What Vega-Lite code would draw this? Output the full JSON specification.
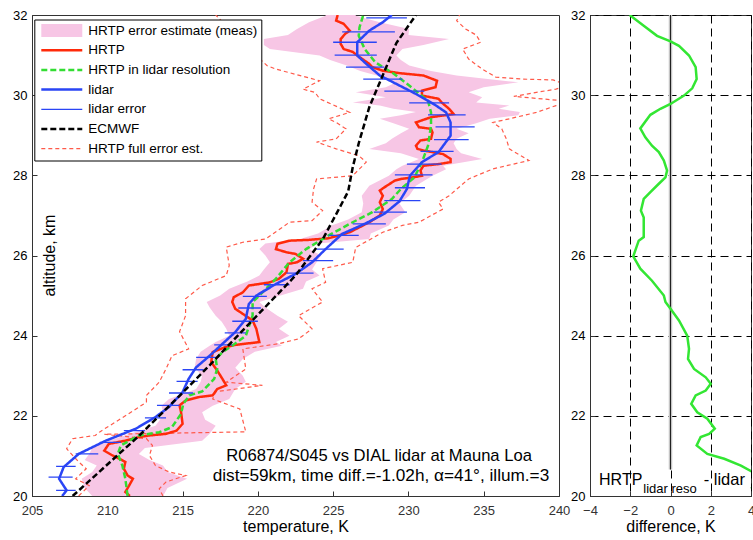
{
  "$schema": "https://vega.github.io/schema/vega-lite/v6.json",
  "background": "white",
  "padding": {"left": 12, "top": 8, "right": 0, "bottom": 0},
  "bounds": "flush",
  "spacing": 31,
  "config": {
    "font": "Liberation Sans",
    "view": {"stroke": "#333", "strokeWidth": 1},
    "axis": {"labelColor": "#111", "labelFontSize": 13, "titleFontSize": 16, "titleFontWeight": "normal", "titleColor": "#000", "domainColor": "#333", "tickColor": "#333", "grid": false, "labelFlush": false, "labelOverlap": false}
  },
  "datasets": {
    "band": [
      {"alt": 20.0, "lo": 209.0, "hi": 213.7}, {"alt": 20.2, "lo": 208.5, "hi": 214.0}, {"alt": 20.43, "lo": 208.3, "hi": 215.3},
      {"alt": 20.6, "lo": 209.0, "hi": 214.0}, {"alt": 20.76, "lo": 209.3, "hi": 213.7}, {"alt": 20.9, "lo": 208.5, "hi": 212.8},
      {"alt": 21.05, "lo": 208.8, "hi": 212.1}, {"alt": 21.2, "lo": 209.0, "hi": 212.5}, {"alt": 21.38, "lo": 210.1, "hi": 216.3},
      {"alt": 21.55, "lo": 211.5, "hi": 216.8}, {"alt": 21.75, "lo": 213.2, "hi": 217.2}, {"alt": 21.9, "lo": 213.5, "hi": 216.5},
      {"alt": 22.09, "lo": 213.7, "hi": 216.3}, {"alt": 22.25, "lo": 213.6, "hi": 217.0}, {"alt": 22.42, "lo": 214.1, "hi": 218.1},
      {"alt": 22.67, "lo": 215.9, "hi": 218.5}, {"alt": 22.85, "lo": 216.2, "hi": 219.2}, {"alt": 23.0, "lo": 216.3, "hi": 219.0},
      {"alt": 23.2, "lo": 215.8, "hi": 218.5}, {"alt": 23.42, "lo": 215.9, "hi": 219.0}, {"alt": 23.6, "lo": 216.2, "hi": 219.8},
      {"alt": 23.75, "lo": 216.8, "hi": 221.6}, {"alt": 23.84, "lo": 217.2, "hi": 221.2}, {"alt": 24.0, "lo": 218.1, "hi": 222.1},
      {"alt": 24.17, "lo": 217.9, "hi": 221.4}, {"alt": 24.35, "lo": 217.6, "hi": 222.0}, {"alt": 24.5, "lo": 217.2, "hi": 221.3},
      {"alt": 24.7, "lo": 216.8, "hi": 220.5}, {"alt": 24.84, "lo": 216.6, "hi": 220.1}, {"alt": 25.0, "lo": 217.5, "hi": 221.5},
      {"alt": 25.17, "lo": 218.1, "hi": 223.0}, {"alt": 25.35, "lo": 219.3, "hi": 223.2}, {"alt": 25.5, "lo": 220.1, "hi": 224.1},
      {"alt": 25.65, "lo": 220.4, "hi": 223.6}, {"alt": 25.83, "lo": 220.8, "hi": 223.9}, {"alt": 26.0, "lo": 220.5, "hi": 224.2},
      {"alt": 26.16, "lo": 220.1, "hi": 223.4}, {"alt": 26.3, "lo": 220.5, "hi": 224.0}, {"alt": 26.41, "lo": 222.8, "hi": 227.4},
      {"alt": 26.55, "lo": 224.0, "hi": 227.5}, {"alt": 26.75, "lo": 224.9, "hi": 228.7}, {"alt": 26.9, "lo": 226.0, "hi": 229.0},
      {"alt": 27.08, "lo": 226.9, "hi": 229.8}, {"alt": 27.3, "lo": 227.0, "hi": 229.4}, {"alt": 27.49, "lo": 226.9, "hi": 230.05},
      {"alt": 27.74, "lo": 227.4, "hi": 230.5}, {"alt": 27.99, "lo": 228.7, "hi": 231.6}, {"alt": 28.15, "lo": 229.2, "hi": 232.5},
      {"alt": 28.24, "lo": 229.6, "hi": 232.3}, {"alt": 28.41, "lo": 230.7, "hi": 234.9}, {"alt": 28.55, "lo": 229.5, "hi": 233.5},
      {"alt": 28.66, "lo": 227.4, "hi": 233.2}, {"alt": 28.8, "lo": 228.5, "hi": 233.0}, {"alt": 28.91, "lo": 228.9, "hi": 233.2},
      {"alt": 29.05, "lo": 229.5, "hi": 234.0}, {"alt": 29.16, "lo": 230.05, "hi": 233.2}, {"alt": 29.3, "lo": 229.0, "hi": 234.5},
      {"alt": 29.41, "lo": 228.1, "hi": 235.4}, {"alt": 29.5, "lo": 229.5, "hi": 237.3}, {"alt": 29.58, "lo": 230.5, "hi": 237.4},
      {"alt": 29.66, "lo": 229.0, "hi": 236.0}, {"alt": 29.74, "lo": 228.1, "hi": 236.7}, {"alt": 29.82, "lo": 226.3, "hi": 234.5},
      {"alt": 29.95, "lo": 228.5, "hi": 234.9}, {"alt": 30.07, "lo": 226.5, "hi": 234.0}, {"alt": 30.2, "lo": 228.5, "hi": 235.0},
      {"alt": 30.32, "lo": 229.2, "hi": 237.3}, {"alt": 30.49, "lo": 227.9, "hi": 233.2}, {"alt": 30.6, "lo": 226.8, "hi": 231.5},
      {"alt": 30.74, "lo": 225.9, "hi": 230.05}, {"alt": 30.88, "lo": 224.8, "hi": 229.5}, {"alt": 30.99, "lo": 224.1, "hi": 229.2},
      {"alt": 31.15, "lo": 220.8, "hi": 229.6}, {"alt": 31.25, "lo": 220.4, "hi": 231.0}, {"alt": 31.4, "lo": 220.4, "hi": 232.7},
      {"alt": 31.5, "lo": 222.0, "hi": 230.0}, {"alt": 31.65, "lo": 222.6, "hi": 230.05}, {"alt": 31.82, "lo": 223.4, "hi": 228.1},
      {"alt": 31.98, "lo": 224.5, "hi": 226.5}, {"alt": 32.0, "lo": 224.5, "hi": 226.5}
    ],
    "fullerr": [
      {"side": "L", "alt": 20.0, "T": 208.1}, {"side": "L", "alt": 20.26, "T": 208.8}, {"side": "L", "alt": 20.43, "T": 207.9},
      {"side": "L", "alt": 20.68, "T": 208.6}, {"side": "L", "alt": 20.85, "T": 208.1}, {"side": "L", "alt": 21.18, "T": 207.3},
      {"side": "L", "alt": 21.43, "T": 207.7}, {"side": "L", "alt": 21.51, "T": 209.2}, {"side": "L", "alt": 21.6, "T": 209.5},
      {"side": "L", "alt": 22.0, "T": 211.2}, {"side": "L", "alt": 22.34, "T": 212.6}, {"side": "L", "alt": 22.51, "T": 212.6},
      {"side": "L", "alt": 22.84, "T": 213.45}, {"side": "L", "alt": 23.17, "T": 213.9}, {"side": "L", "alt": 23.5, "T": 214.3},
      {"side": "L", "alt": 23.67, "T": 215.4}, {"side": "L", "alt": 24.1, "T": 214.8}, {"side": "L", "alt": 24.5, "T": 215.2},
      {"side": "L", "alt": 24.92, "T": 215.2}, {"side": "L", "alt": 25.25, "T": 216.3}, {"side": "L", "alt": 25.5, "T": 217.9},
      {"side": "L", "alt": 25.75, "T": 218.1}, {"side": "L", "alt": 26.21, "T": 217.9}, {"side": "L", "alt": 26.33, "T": 219.0},
      {"side": "L", "alt": 26.41, "T": 220.5}, {"side": "L", "alt": 26.83, "T": 222.1}, {"side": "L", "alt": 26.87, "T": 223.6},
      {"side": "L", "alt": 27.12, "T": 224.3}, {"side": "L", "alt": 27.33, "T": 223.6}, {"side": "L", "alt": 27.66, "T": 223.7},
      {"side": "L", "alt": 27.91, "T": 223.9}, {"side": "L", "alt": 27.99, "T": 226.3}, {"side": "L", "alt": 28.33, "T": 227.2},
      {"side": "L", "alt": 28.49, "T": 226.7}, {"side": "L", "alt": 28.66, "T": 225.2}, {"side": "L", "alt": 28.83, "T": 223.9},
      {"side": "L", "alt": 28.91, "T": 225.2}, {"side": "L", "alt": 29.16, "T": 225.85}, {"side": "L", "alt": 29.32, "T": 225.2},
      {"side": "L", "alt": 29.41, "T": 224.7}, {"side": "L", "alt": 29.57, "T": 226.1}, {"side": "L", "alt": 29.91, "T": 224.1},
      {"side": "L", "alt": 30.07, "T": 223.8}, {"side": "L", "alt": 30.15, "T": 223.0}, {"side": "L", "alt": 30.36, "T": 224.1},
      {"side": "L", "alt": 30.65, "T": 221.2}, {"side": "L", "alt": 30.74, "T": 220.6}, {"side": "L", "alt": 31.3, "T": 219.0},
      {"side": "L", "alt": 32.0, "T": 217.2},
      {"side": "R", "alt": 20.0, "T": 213.7}, {"side": "R", "alt": 20.18, "T": 213.45}, {"side": "R", "alt": 20.35, "T": 213.9},
      {"side": "R", "alt": 20.51, "T": 215.2}, {"side": "R", "alt": 20.6, "T": 214.1}, {"side": "R", "alt": 20.76, "T": 213.2},
      {"side": "R", "alt": 21.01, "T": 212.8}, {"side": "R", "alt": 21.26, "T": 213.0}, {"side": "R", "alt": 21.43, "T": 212.6},
      {"side": "R", "alt": 21.54, "T": 209.8}, {"side": "R", "alt": 21.6, "T": 219.2}, {"side": "R", "alt": 22.17, "T": 218.8},
      {"side": "R", "alt": 22.42, "T": 217.0}, {"side": "R", "alt": 22.6, "T": 217.2}, {"side": "R", "alt": 22.76, "T": 220.3},
      {"side": "R", "alt": 22.84, "T": 217.9}, {"side": "R", "alt": 23.17, "T": 219.2}, {"side": "R", "alt": 23.67, "T": 219.0},
      {"side": "R", "alt": 23.8, "T": 221.4}, {"side": "R", "alt": 23.92, "T": 222.7}, {"side": "R", "alt": 24.17, "T": 223.6},
      {"side": "R", "alt": 24.5, "T": 222.7}, {"side": "R", "alt": 24.84, "T": 224.3}, {"side": "R", "alt": 25.17, "T": 223.6},
      {"side": "R", "alt": 25.33, "T": 224.5}, {"side": "R", "alt": 25.67, "T": 224.3}, {"side": "R", "alt": 25.83, "T": 226.3},
      {"side": "R", "alt": 26.2, "T": 226.5}, {"side": "R", "alt": 26.58, "T": 228.3}, {"side": "R", "alt": 26.75, "T": 229.6},
      {"side": "R", "alt": 26.83, "T": 230.7}, {"side": "R", "alt": 27.16, "T": 232.3}, {"side": "R", "alt": 27.33, "T": 232.0},
      {"side": "R", "alt": 27.49, "T": 232.7}, {"side": "R", "alt": 27.91, "T": 234.0}, {"side": "R", "alt": 28.16, "T": 235.6},
      {"side": "R", "alt": 28.37, "T": 238.0}, {"side": "R", "alt": 28.66, "T": 236.7}, {"side": "R", "alt": 28.91, "T": 236.5},
      {"side": "R", "alt": 29.16, "T": 236.2}, {"side": "R", "alt": 29.32, "T": 235.6}, {"side": "R", "alt": 29.41, "T": 236.7},
      {"side": "R", "alt": 29.57, "T": 238.5}, {"side": "R", "alt": 29.74, "T": 239.8}, {"side": "R", "alt": 29.85, "T": 240.6},
      {"side": "R", "alt": 29.97, "T": 237.0}, {"side": "R", "alt": 30.07, "T": 238.5}, {"side": "R", "alt": 30.15, "T": 239.8},
      {"side": "R", "alt": 30.25, "T": 240.6}, {"side": "R", "alt": 30.38, "T": 239.6}, {"side": "R", "alt": 30.4, "T": 237.6},
      {"side": "R", "alt": 30.45, "T": 235.8}, {"side": "R", "alt": 30.65, "T": 234.9}, {"side": "R", "alt": 30.9, "T": 234.0},
      {"side": "R", "alt": 31.15, "T": 233.6}, {"side": "R", "alt": 31.32, "T": 234.8}, {"side": "R", "alt": 31.5, "T": 234.5},
      {"side": "R", "alt": 31.65, "T": 233.8}, {"side": "R", "alt": 31.86, "T": 233.2}, {"side": "R", "alt": 32.0, "T": 233.4}
    ],
    "hrtp": [
      {"alt": 20.0, "T": 211.5}, {"alt": 20.1, "T": 211.2}, {"alt": 20.26, "T": 211.45}, {"alt": 20.43, "T": 211.7},
      {"alt": 20.51, "T": 211.35}, {"alt": 20.68, "T": 211.1}, {"alt": 20.85, "T": 211.2}, {"alt": 20.93, "T": 210.8},
      {"alt": 21.01, "T": 210.35}, {"alt": 21.13, "T": 209.8}, {"alt": 21.3, "T": 210.1}, {"alt": 21.38, "T": 211.2},
      {"alt": 21.47, "T": 212.1}, {"alt": 21.51, "T": 212.8}, {"alt": 21.55, "T": 213.9}, {"alt": 21.63, "T": 214.6},
      {"alt": 21.8, "T": 215.0}, {"alt": 22.09, "T": 214.9}, {"alt": 22.26, "T": 214.8}, {"alt": 22.38, "T": 215.2},
      {"alt": 22.47, "T": 216.1}, {"alt": 22.51, "T": 217.0}, {"alt": 22.67, "T": 217.3}, {"alt": 22.76, "T": 217.9},
      {"alt": 22.92, "T": 217.65}, {"alt": 23.13, "T": 217.3}, {"alt": 23.34, "T": 216.9}, {"alt": 23.59, "T": 217.0},
      {"alt": 23.71, "T": 217.8}, {"alt": 23.77, "T": 218.5}, {"alt": 23.84, "T": 220.1}, {"alt": 24.17, "T": 219.9},
      {"alt": 24.38, "T": 219.65}, {"alt": 24.67, "T": 218.5}, {"alt": 24.84, "T": 218.3}, {"alt": 24.96, "T": 218.4},
      {"alt": 25.08, "T": 219.0}, {"alt": 25.25, "T": 219.4}, {"alt": 25.29, "T": 220.1}, {"alt": 25.33, "T": 220.8},
      {"alt": 25.42, "T": 221.4}, {"alt": 25.58, "T": 221.9}, {"alt": 25.79, "T": 222.0}, {"alt": 25.83, "T": 222.6},
      {"alt": 25.92, "T": 223.0}, {"alt": 26.04, "T": 222.5}, {"alt": 26.08, "T": 221.9}, {"alt": 26.16, "T": 221.2},
      {"alt": 26.29, "T": 221.3}, {"alt": 26.37, "T": 222.1}, {"alt": 26.39, "T": 223.4}, {"alt": 26.43, "T": 224.7},
      {"alt": 26.58, "T": 226.1}, {"alt": 26.83, "T": 227.4}, {"alt": 27.0, "T": 228.1}, {"alt": 27.16, "T": 228.3},
      {"alt": 27.33, "T": 228.1}, {"alt": 27.49, "T": 228.3}, {"alt": 27.62, "T": 228.1}, {"alt": 27.7, "T": 228.4},
      {"alt": 27.87, "T": 229.1}, {"alt": 27.91, "T": 229.5}, {"alt": 27.95, "T": 230.3}, {"alt": 27.99, "T": 230.9},
      {"alt": 28.12, "T": 230.8}, {"alt": 28.24, "T": 231.0}, {"alt": 28.28, "T": 232.0}, {"alt": 28.33, "T": 232.8},
      {"alt": 28.41, "T": 232.8}, {"alt": 28.53, "T": 232.3}, {"alt": 28.62, "T": 231.0}, {"alt": 28.66, "T": 230.6},
      {"alt": 28.74, "T": 230.5}, {"alt": 28.87, "T": 230.8}, {"alt": 28.91, "T": 231.5}, {"alt": 29.07, "T": 231.6},
      {"alt": 29.16, "T": 231.5}, {"alt": 29.2, "T": 230.7}, {"alt": 29.32, "T": 230.5}, {"alt": 29.45, "T": 231.5},
      {"alt": 29.53, "T": 233.0}, {"alt": 29.66, "T": 232.7}, {"alt": 29.82, "T": 232.2}, {"alt": 29.91, "T": 232.0},
      {"alt": 29.99, "T": 230.9}, {"alt": 30.11, "T": 230.9}, {"alt": 30.2, "T": 231.8}, {"alt": 30.36, "T": 231.9},
      {"alt": 30.49, "T": 231.0}, {"alt": 30.55, "T": 229.4}, {"alt": 30.61, "T": 228.3}, {"alt": 30.7, "T": 227.6},
      {"alt": 30.78, "T": 227.4}, {"alt": 30.99, "T": 226.6}, {"alt": 31.08, "T": 226.3}, {"alt": 31.15, "T": 225.7},
      {"alt": 31.28, "T": 225.5}, {"alt": 31.4, "T": 225.5}, {"alt": 31.53, "T": 225.8}, {"alt": 31.61, "T": 226.1},
      {"alt": 31.78, "T": 225.7}, {"alt": 31.86, "T": 225.2}, {"alt": 32.0, "T": 225.3}
    ],
    "green": [
      {"alt": 20.0, "T": 211.35}, {"alt": 20.43, "T": 211.2}, {"alt": 20.76, "T": 211.0}, {"alt": 21.05, "T": 210.7},
      {"alt": 21.26, "T": 210.9}, {"alt": 21.51, "T": 212.1}, {"alt": 21.59, "T": 213.45}, {"alt": 21.72, "T": 214.3},
      {"alt": 22.05, "T": 214.9}, {"alt": 22.3, "T": 215.05}, {"alt": 22.51, "T": 215.45}, {"alt": 22.61, "T": 216.3},
      {"alt": 22.92, "T": 217.1}, {"alt": 23.17, "T": 217.3}, {"alt": 23.42, "T": 217.2}, {"alt": 23.59, "T": 217.65},
      {"alt": 23.75, "T": 218.3}, {"alt": 24.0, "T": 219.2}, {"alt": 24.5, "T": 219.65}, {"alt": 24.84, "T": 219.65},
      {"alt": 25.0, "T": 220.1}, {"alt": 25.42, "T": 221.2}, {"alt": 25.83, "T": 222.1}, {"alt": 26.16, "T": 223.2},
      {"alt": 26.5, "T": 224.7}, {"alt": 26.83, "T": 226.3}, {"alt": 27.08, "T": 227.6}, {"alt": 27.41, "T": 228.9},
      {"alt": 27.66, "T": 229.5}, {"alt": 27.95, "T": 230.4}, {"alt": 28.33, "T": 230.9}, {"alt": 28.74, "T": 231.3},
      {"alt": 29.24, "T": 231.5}, {"alt": 29.57, "T": 231.5}, {"alt": 29.86, "T": 231.3}, {"alt": 30.24, "T": 230.05},
      {"alt": 30.53, "T": 229.05}, {"alt": 30.82, "T": 227.8}, {"alt": 31.15, "T": 227.1}, {"alt": 31.48, "T": 226.7},
      {"alt": 31.69, "T": 226.75}, {"alt": 32.0, "T": 227.0}
    ],
    "lidar": [
      {"alt": 20.0, "T": 207.0}, {"alt": 20.14, "T": 207.3}, {"alt": 20.43, "T": 206.8}, {"alt": 20.72, "T": 207.1},
      {"alt": 21.05, "T": 208.1}, {"alt": 21.38, "T": 209.9}, {"alt": 21.68, "T": 211.9}, {"alt": 21.97, "T": 213.2},
      {"alt": 22.22, "T": 214.1}, {"alt": 22.59, "T": 215.0}, {"alt": 22.92, "T": 215.4}, {"alt": 23.21, "T": 215.9},
      {"alt": 23.5, "T": 216.8}, {"alt": 23.71, "T": 217.4}, {"alt": 24.09, "T": 218.5}, {"alt": 24.42, "T": 219.2},
      {"alt": 24.79, "T": 219.4}, {"alt": 25.0, "T": 219.9}, {"alt": 25.29, "T": 221.2}, {"alt": 25.54, "T": 222.5},
      {"alt": 25.83, "T": 223.6}, {"alt": 26.16, "T": 224.5}, {"alt": 26.54, "T": 225.6}, {"alt": 26.79, "T": 227.1},
      {"alt": 27.04, "T": 228.4}, {"alt": 27.35, "T": 229.4}, {"alt": 27.66, "T": 229.9}, {"alt": 27.99, "T": 230.1},
      {"alt": 28.33, "T": 230.9}, {"alt": 28.58, "T": 232.0}, {"alt": 28.99, "T": 232.8}, {"alt": 29.32, "T": 232.8},
      {"alt": 29.57, "T": 232.5}, {"alt": 29.75, "T": 231.8}, {"alt": 30.03, "T": 230.5}, {"alt": 30.28, "T": 229.2},
      {"alt": 30.49, "T": 228.1}, {"alt": 30.78, "T": 227.2}, {"alt": 30.99, "T": 226.6}, {"alt": 31.32, "T": 226.6},
      {"alt": 31.61, "T": 227.4}, {"alt": 31.82, "T": 228.3}, {"alt": 32.0, "T": 228.9}
    ],
    "errbars": [
      {"alt": 20.14, "lo": 206.6, "hi": 207.9}, {"alt": 20.47, "lo": 206.1, "hi": 207.7}, {"alt": 20.74, "lo": 206.6, "hi": 207.9},
      {"alt": 21.05, "lo": 207.9, "hi": 209.4}, {"alt": 21.34, "lo": 209.5, "hi": 210.9}, {"alt": 21.63, "lo": 211.1, "hi": 212.5},
      {"alt": 21.95, "lo": 212.5, "hi": 213.9}, {"alt": 22.26, "lo": 213.3, "hi": 214.8}, {"alt": 22.57, "lo": 214.1, "hi": 215.7},
      {"alt": 22.86, "lo": 214.6, "hi": 216.0}, {"alt": 23.15, "lo": 215.0, "hi": 216.4}, {"alt": 23.46, "lo": 215.9, "hi": 217.4},
      {"alt": 23.77, "lo": 217.1, "hi": 218.3}, {"alt": 24.07, "lo": 217.8, "hi": 219.2}, {"alt": 24.36, "lo": 218.3, "hi": 220.0},
      {"alt": 24.69, "lo": 218.7, "hi": 220.2}, {"alt": 24.98, "lo": 219.0, "hi": 220.6}, {"alt": 25.27, "lo": 220.4, "hi": 222.1},
      {"alt": 25.56, "lo": 221.9, "hi": 223.7}, {"alt": 25.87, "lo": 223.0, "hi": 225.0}, {"alt": 26.16, "lo": 223.9, "hi": 225.7},
      {"alt": 26.5, "lo": 224.7, "hi": 226.7}, {"alt": 26.79, "lo": 226.3, "hi": 228.5}, {"alt": 27.08, "lo": 227.7, "hi": 229.9},
      {"alt": 27.37, "lo": 228.4, "hi": 230.8}, {"alt": 27.69, "lo": 229.1, "hi": 231.1}, {"alt": 28.01, "lo": 229.1, "hi": 231.6},
      {"alt": 28.28, "lo": 229.9, "hi": 232.2}, {"alt": 28.6, "lo": 230.8, "hi": 233.0}, {"alt": 28.89, "lo": 231.7, "hi": 234.0},
      {"alt": 29.21, "lo": 231.8, "hi": 234.4}, {"alt": 29.51, "lo": 231.3, "hi": 233.8}, {"alt": 29.81, "lo": 230.05, "hi": 232.7},
      {"alt": 30.1, "lo": 228.4, "hi": 231.05}, {"alt": 30.4, "lo": 227.0, "hi": 229.6}, {"alt": 30.7, "lo": 225.85, "hi": 228.4},
      {"alt": 31.0, "lo": 225.1, "hi": 227.9}, {"alt": 31.32, "lo": 225.0, "hi": 227.9}, {"alt": 31.58, "lo": 225.6, "hi": 229.1},
      {"alt": 31.93, "lo": 227.2, "hi": 229.9}
    ],
    "ecmwf": [
      {"alt": 20.0, "T": 207.7}, {"alt": 21.5, "T": 212.1}, {"alt": 22.5, "T": 214.8}, {"alt": 23.3, "T": 216.9},
      {"alt": 23.7, "T": 217.9}, {"alt": 25.5, "T": 222.5}, {"alt": 26.4, "T": 224.3}, {"alt": 27.1, "T": 225.3},
      {"alt": 27.6, "T": 226.0}, {"alt": 28.2, "T": 226.3}, {"alt": 28.8, "T": 226.7}, {"alt": 29.7, "T": 227.4},
      {"alt": 30.5, "T": 228.3}, {"alt": 31.3, "T": 229.2}, {"alt": 32.0, "T": 230.5}
    ],
    "diff": [
      {"alt": 20.0, "d": 4.4}, {"alt": 20.1, "d": 4.1}, {"alt": 20.2, "d": 4.05}, {"alt": 20.3, "d": 4.5}, {"alt": 20.5, "d": 4.6},
      {"alt": 20.6, "d": 4.08}, {"alt": 20.76, "d": 3.5}, {"alt": 20.93, "d": 2.67}, {"alt": 21.05, "d": 1.83},
      {"alt": 21.26, "d": 1.3}, {"alt": 21.47, "d": 1.5}, {"alt": 21.55, "d": 1.92}, {"alt": 21.68, "d": 2.2},
      {"alt": 21.93, "d": 1.83}, {"alt": 22.09, "d": 1.33}, {"alt": 22.3, "d": 1.03}, {"alt": 22.51, "d": 1.25},
      {"alt": 22.63, "d": 1.75}, {"alt": 22.8, "d": 2.0}, {"alt": 22.96, "d": 1.75}, {"alt": 23.17, "d": 1.17},
      {"alt": 23.42, "d": 0.87}, {"alt": 23.67, "d": 0.92}, {"alt": 24.0, "d": 0.83}, {"alt": 24.38, "d": 0.42},
      {"alt": 24.67, "d": 0.0}, {"alt": 24.84, "d": -0.25}, {"alt": 25.0, "d": -0.33}, {"alt": 25.37, "d": -0.92},
      {"alt": 25.67, "d": -1.5}, {"alt": 25.98, "d": -1.85}, {"alt": 26.37, "d": -1.58}, {"alt": 26.46, "d": -1.33},
      {"alt": 26.95, "d": -1.33}, {"alt": 27.12, "d": -1.47}, {"alt": 27.41, "d": -1.33}, {"alt": 27.58, "d": -1.0},
      {"alt": 27.79, "d": -0.58}, {"alt": 27.95, "d": -0.25}, {"alt": 28.12, "d": -0.17}, {"alt": 28.37, "d": -0.33},
      {"alt": 28.58, "d": -0.58}, {"alt": 28.74, "d": -0.92}, {"alt": 28.95, "d": -1.25}, {"alt": 29.17, "d": -1.5},
      {"alt": 29.51, "d": -1.0}, {"alt": 29.66, "d": -0.5}, {"alt": 29.78, "d": 0.0}, {"alt": 29.99, "d": 0.67},
      {"alt": 30.17, "d": 1.08}, {"alt": 30.4, "d": 1.3}, {"alt": 30.7, "d": 1.25}, {"alt": 30.99, "d": 0.92},
      {"alt": 31.23, "d": 0.42}, {"alt": 31.34, "d": 0.0}, {"alt": 31.48, "d": -0.67}, {"alt": 31.73, "d": -1.33},
      {"alt": 32.0, "d": -2.03}
    ]
  },
  "hconcat": [
    {
      "width": 527,
      "height": 481,
      "layer": [
        {
          "data": {"name": "band"},
          "mark": {"type": "area", "orient": "horizontal", "clip": true, "opacity": 1, "color": "#f7c6e5"},
          "encoding": {
            "y": {"field": "alt", "type": "quantitative", "scale": {"domain": [20, 32], "nice": false, "zero": false},
                  "axis": {"values": [20, 22, 24, 26, 28, 30, 32], "title": "altitude, km", "tickSize": -5, "labelPadding": 10, "labelColor": "#000", "titleX": 17, "titleY": 240, "titleAlign": "center", "titleBaseline": "middle", "titleAngle": -90}},
            "x": {"field": "lo", "type": "quantitative", "scale": {"domain": [205, 240], "nice": false, "zero": false},
                  "axis": {"values": [205, 210, 215, 220, 225, 230, 235, 240], "title": "temperature, K", "tickSize": -5, "labelPadding": 13, "labelColor": "#333", "titlePadding": 1}},
            "x2": {"field": "hi"}
          }
        },
        {
          "data": {"name": "fullerr"},
          "mark": {"type": "line", "clip": true},
          "encoding": {
            "y": {"field": "alt", "type": "quantitative", "scale": {"domain": [20, 32], "nice": false, "zero": false}},
            "x": {"field": "T", "type": "quantitative", "scale": {"domain": [205, 240], "nice": false, "zero": false}},
            "order": {"field": "alt", "type": "quantitative"},
            "detail": {"field": "side", "type": "nominal"},
            "stroke": {"datum": "HRTP full error est.", "type": "nominal",
              "scale": {"domain": ["HRTP error estimate (meas)", "HRTP", "HRTP in lidar resolution", "lidar", "lidar error", "ECMWF", "HRTP full error est."],
                        "range": ["#f7c6e5", "#ff2a0a", "#33dd33", "#2a45f5", "#2a45f5", "#000000", "#ff5a4a"]},
              "legend": {"orient": "none", "legendX": 2.3, "legendY": 4.5, "title": null, "symbolType": "M-1.5,0H5.33", "symbolSize": 144, "clipHeight": 15, "rowPadding": 4.7, "padding": 3.5,
                         "labelFontSize": 13.5, "labelColor": "#000", "labelLimit": 400, "labelOffset": 25.5, "fillColor": "#ffffff", "strokeColor": "#000000", "symbolOpacity": 1}},
            "strokeDash": {"datum": "HRTP full error est.", "type": "nominal",
              "scale": {"domain": ["HRTP error estimate (meas)", "HRTP", "HRTP in lidar resolution", "lidar", "lidar error", "ECMWF", "HRTP full error est."],
                        "range": [[1, 0], [1, 0], [6, 3], [1, 0], [1, 0], [6, 3], [4, 3]]},
              "legend": {"orient": "none", "legendX": 2.3, "legendY": 4.5, "title": null, "symbolType": "M-1.5,0H5.33", "symbolSize": 144, "clipHeight": 15, "rowPadding": 4.7, "padding": 3.5,
                         "labelFontSize": 13.5, "labelColor": "#000", "labelLimit": 400, "labelOffset": 25.5, "fillColor": "#ffffff", "strokeColor": "#000000", "symbolOpacity": 1}},
            "strokeWidth": {"datum": "HRTP full error est.", "type": "nominal",
              "scale": {"type": "ordinal", "domain": ["HRTP error estimate (meas)", "HRTP", "HRTP in lidar resolution", "lidar", "lidar error", "ECMWF", "HRTP full error est."],
                        "range": [13, 2.5, 2.5, 2.5, 1.3, 2.5, 1.2]},
              "legend": {"orient": "none", "legendX": 2.3, "legendY": 4.5, "title": null, "symbolType": "M-1.5,0H5.33", "symbolSize": 144, "clipHeight": 15, "rowPadding": 4.7, "padding": 3.5,
                         "labelFontSize": 13.5, "labelColor": "#000", "labelLimit": 400, "labelOffset": 25.5, "fillColor": "#ffffff", "strokeColor": "#000000", "symbolOpacity": 1}}
          }
        },
        {
          "data": {"name": "hrtp"},
          "mark": {"type": "line", "clip": true},
          "encoding": {
            "y": {"field": "alt", "type": "quantitative", "scale": {"domain": [20, 32], "nice": false, "zero": false}},
            "x": {"field": "T", "type": "quantitative", "scale": {"domain": [205, 240], "nice": false, "zero": false}},
            "order": {"field": "alt", "type": "quantitative"},
            "stroke": {"datum": "HRTP", "type": "nominal",
              "scale": {"domain": ["HRTP error estimate (meas)", "HRTP", "HRTP in lidar resolution", "lidar", "lidar error", "ECMWF", "HRTP full error est."],
                        "range": ["#f7c6e5", "#ff2a0a", "#33dd33", "#2a45f5", "#2a45f5", "#000000", "#ff5a4a"]}},
            "strokeDash": {"datum": "HRTP", "type": "nominal",
              "scale": {"domain": ["HRTP error estimate (meas)", "HRTP", "HRTP in lidar resolution", "lidar", "lidar error", "ECMWF", "HRTP full error est."],
                        "range": [[1, 0], [1, 0], [6, 3], [1, 0], [1, 0], [6, 3], [4, 3]]}},
            "strokeWidth": {"datum": "HRTP", "type": "nominal",
              "scale": {"type": "ordinal", "domain": ["HRTP error estimate (meas)", "HRTP", "HRTP in lidar resolution", "lidar", "lidar error", "ECMWF", "HRTP full error est."],
                        "range": [13, 2.5, 2.5, 2.5, 1.3, 2.5, 1.2]}}
          }
        },
        {
          "data": {"name": "green"},
          "mark": {"type": "line", "clip": true},
          "encoding": {
            "y": {"field": "alt", "type": "quantitative", "scale": {"domain": [20, 32], "nice": false, "zero": false}},
            "x": {"field": "T", "type": "quantitative", "scale": {"domain": [205, 240], "nice": false, "zero": false}},
            "order": {"field": "alt", "type": "quantitative"},
            "stroke": {"datum": "HRTP in lidar resolution", "type": "nominal",
              "scale": {"domain": ["HRTP error estimate (meas)", "HRTP", "HRTP in lidar resolution", "lidar", "lidar error", "ECMWF", "HRTP full error est."],
                        "range": ["#f7c6e5", "#ff2a0a", "#33dd33", "#2a45f5", "#2a45f5", "#000000", "#ff5a4a"]}},
            "strokeDash": {"datum": "HRTP in lidar resolution", "type": "nominal",
              "scale": {"domain": ["HRTP error estimate (meas)", "HRTP", "HRTP in lidar resolution", "lidar", "lidar error", "ECMWF", "HRTP full error est."],
                        "range": [[1, 0], [1, 0], [6, 3], [1, 0], [1, 0], [6, 3], [4, 3]]}},
            "strokeWidth": {"datum": "HRTP in lidar resolution", "type": "nominal",
              "scale": {"type": "ordinal", "domain": ["HRTP error estimate (meas)", "HRTP", "HRTP in lidar resolution", "lidar", "lidar error", "ECMWF", "HRTP full error est."],
                        "range": [13, 2.5, 2.5, 2.5, 1.3, 2.5, 1.2]}}
          }
        },
        {
          "data": {"name": "lidar"},
          "mark": {"type": "line", "clip": true},
          "encoding": {
            "y": {"field": "alt", "type": "quantitative", "scale": {"domain": [20, 32], "nice": false, "zero": false}},
            "x": {"field": "T", "type": "quantitative", "scale": {"domain": [205, 240], "nice": false, "zero": false}},
            "order": {"field": "alt", "type": "quantitative"},
            "stroke": {"datum": "lidar", "type": "nominal",
              "scale": {"domain": ["HRTP error estimate (meas)", "HRTP", "HRTP in lidar resolution", "lidar", "lidar error", "ECMWF", "HRTP full error est."],
                        "range": ["#f7c6e5", "#ff2a0a", "#33dd33", "#2a45f5", "#2a45f5", "#000000", "#ff5a4a"]}},
            "strokeDash": {"datum": "lidar", "type": "nominal",
              "scale": {"domain": ["HRTP error estimate (meas)", "HRTP", "HRTP in lidar resolution", "lidar", "lidar error", "ECMWF", "HRTP full error est."],
                        "range": [[1, 0], [1, 0], [6, 3], [1, 0], [1, 0], [6, 3], [4, 3]]}},
            "strokeWidth": {"datum": "lidar", "type": "nominal",
              "scale": {"type": "ordinal", "domain": ["HRTP error estimate (meas)", "HRTP", "HRTP in lidar resolution", "lidar", "lidar error", "ECMWF", "HRTP full error est."],
                        "range": [13, 2.5, 2.5, 2.5, 1.3, 2.5, 1.2]}}
          }
        },
        {
          "data": {"name": "errbars"},
          "mark": {"type": "rule", "clip": true},
          "encoding": {
            "y": {"field": "alt", "type": "quantitative", "scale": {"domain": [20, 32], "nice": false, "zero": false}},
            "x": {"field": "lo", "type": "quantitative", "scale": {"domain": [205, 240], "nice": false, "zero": false}},
            "x2": {"field": "hi"},
            "stroke": {"datum": "lidar error", "type": "nominal",
              "scale": {"domain": ["HRTP error estimate (meas)", "HRTP", "HRTP in lidar resolution", "lidar", "lidar error", "ECMWF", "HRTP full error est."],
                        "range": ["#f7c6e5", "#ff2a0a", "#33dd33", "#2a45f5", "#2a45f5", "#000000", "#ff5a4a"]}},
            "strokeDash": {"datum": "lidar error", "type": "nominal",
              "scale": {"domain": ["HRTP error estimate (meas)", "HRTP", "HRTP in lidar resolution", "lidar", "lidar error", "ECMWF", "HRTP full error est."],
                        "range": [[1, 0], [1, 0], [6, 3], [1, 0], [1, 0], [6, 3], [4, 3]]}},
            "strokeWidth": {"datum": "lidar error", "type": "nominal",
              "scale": {"type": "ordinal", "domain": ["HRTP error estimate (meas)", "HRTP", "HRTP in lidar resolution", "lidar", "lidar error", "ECMWF", "HRTP full error est."],
                        "range": [13, 2.5, 2.5, 2.5, 1.3, 2.5, 1.2]}}
          }
        },
        {
          "data": {"name": "ecmwf"},
          "mark": {"type": "line", "clip": true},
          "encoding": {
            "y": {"field": "alt", "type": "quantitative", "scale": {"domain": [20, 32], "nice": false, "zero": false}},
            "x": {"field": "T", "type": "quantitative", "scale": {"domain": [205, 240], "nice": false, "zero": false}},
            "order": {"field": "alt", "type": "quantitative"},
            "stroke": {"datum": "ECMWF", "type": "nominal",
              "scale": {"domain": ["HRTP error estimate (meas)", "HRTP", "HRTP in lidar resolution", "lidar", "lidar error", "ECMWF", "HRTP full error est."],
                        "range": ["#f7c6e5", "#ff2a0a", "#33dd33", "#2a45f5", "#2a45f5", "#000000", "#ff5a4a"]}},
            "strokeDash": {"datum": "ECMWF", "type": "nominal",
              "scale": {"domain": ["HRTP error estimate (meas)", "HRTP", "HRTP in lidar resolution", "lidar", "lidar error", "ECMWF", "HRTP full error est."],
                        "range": [[1, 0], [1, 0], [6, 3], [1, 0], [1, 0], [6, 3], [4, 3]]}},
            "strokeWidth": {"datum": "ECMWF", "type": "nominal",
              "scale": {"type": "ordinal", "domain": ["HRTP error estimate (meas)", "HRTP", "HRTP in lidar resolution", "lidar", "lidar error", "ECMWF", "HRTP full error est."],
                        "range": [13, 2.5, 2.5, 2.5, 1.3, 2.5, 1.2]}}
          }
        },
        {
          "data": {"values": [{}]},
          "mark": {"type": "text", "align": "right", "baseline": "middle", "fontSize": 16.6, "color": "#000"},
          "encoding": {
            "x": {"datum": 238.2, "type": "quantitative", "scale": {"domain": [205, 240], "nice": false, "zero": false}},
            "y": {"datum": 21.01, "type": "quantitative", "scale": {"domain": [20, 32], "nice": false, "zero": false}},
            "text": {"value": "R06874/S045 vs DIAL lidar at  Mauna Loa"}
          }
        },
        {
          "data": {"values": [{}]},
          "mark": {"type": "text", "align": "right", "baseline": "middle", "fontSize": 17.2, "color": "#000"},
          "encoding": {
            "x": {"datum": 239.35, "type": "quantitative", "scale": {"domain": [205, 240], "nice": false, "zero": false}},
            "y": {"datum": 20.51, "type": "quantitative", "scale": {"domain": [20, 32], "nice": false, "zero": false}},
            "text": {"value": "dist=59km,  time diff.=-1.02h, α=41°, illum.=3"}
          }
        }
      ]
    },
    {
      "width": 161,
      "height": 481,
      "layer": [
        {
          "data": {"values": [{}]},
          "mark": {"type": "rule", "color": "#c4c4c4", "strokeWidth": 3.5},
          "encoding": {
            "x": {"datum": 0, "type": "quantitative", "scale": {"domain": [-4, 4], "nice": false, "zero": false},
                  "axis": {"values": [-4, -2, 0, 2, 4], "title": "difference, K", "tickSize": -5, "labelPadding": 13, "labelColor": "#333", "titlePadding": 1,
                           "grid": true, "gridColor": "#000", "gridDash": [8, 5], "gridOpacity": 1, "gridWidth": 1}},
            "y": {"datum": 20.66, "type": "quantitative", "scale": {"domain": [20, 32], "nice": false, "zero": false},
                  "axis": {"values": [20, 22, 24, 26, 28, 30, 32], "title": null, "tickSize": -5, "labelPadding": 10, "labelColor": "#000",
                           "grid": true, "gridColor": "#000", "gridDash": [8, 5], "gridOpacity": 1, "gridWidth": 1}},
            "y2": {"datum": 32}
          }
        },
        {
          "data": {"values": [{}]},
          "mark": {"type": "rule", "color": "#222", "strokeWidth": 1},
          "encoding": {
            "x": {"datum": 0, "type": "quantitative", "scale": {"domain": [-4, 4], "nice": false, "zero": false}},
            "y": {"datum": 20.66, "type": "quantitative", "scale": {"domain": [20, 32], "nice": false, "zero": false}},
            "y2": {"datum": 32}
          }
        },
        {
          "data": {"name": "diff"},
          "mark": {"type": "line", "clip": true, "strokeWidth": 2.5, "color": "#33e633"},
          "encoding": {
            "y": {"field": "alt", "type": "quantitative", "scale": {"domain": [20, 32], "nice": false, "zero": false}},
            "x": {"field": "d", "type": "quantitative", "scale": {"domain": [-4, 4], "nice": false, "zero": false}},
            "order": {"field": "alt", "type": "quantitative"}
          }
        },
        {
          "data": {"values": [{}]},
          "mark": {"type": "text", "align": "left", "baseline": "middle", "fontSize": 16, "color": "#000"},
          "encoding": {
            "x": {"datum": -3.55, "type": "quantitative", "scale": {"domain": [-4, 4], "nice": false, "zero": false}},
            "y": {"datum": 20.39, "type": "quantitative", "scale": {"domain": [20, 32], "nice": false, "zero": false}},
            "text": {"value": "HRTP"}
          }
        },
        {
          "data": {"values": [{}]},
          "mark": {"type": "text", "align": "left", "baseline": "middle", "fontSize": 13, "color": "#000"},
          "encoding": {
            "x": {"datum": -1.35, "type": "quantitative", "scale": {"domain": [-4, 4], "nice": false, "zero": false}},
            "y": {"datum": 20.17, "type": "quantitative", "scale": {"domain": [20, 32], "nice": false, "zero": false}},
            "text": {"value": "lidar reso"}
          }
        },
        {
          "data": {"values": [{}]},
          "mark": {"type": "text", "align": "left", "baseline": "middle", "fontSize": 16.5, "color": "#000"},
          "encoding": {
            "x": {"datum": 1.65, "type": "quantitative", "scale": {"domain": [-4, 4], "nice": false, "zero": false}},
            "y": {"datum": 20.39, "type": "quantitative", "scale": {"domain": [20, 32], "nice": false, "zero": false}},
            "text": {"value": "- lidar"}
          }
        }
      ]
    }
  ]
}
